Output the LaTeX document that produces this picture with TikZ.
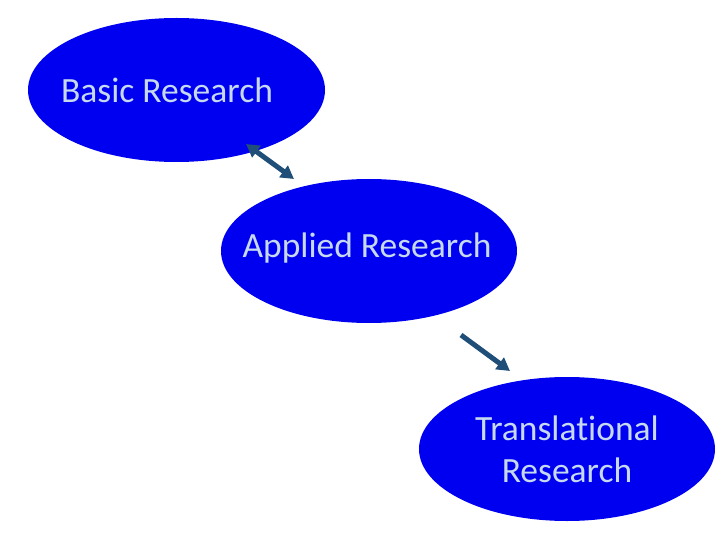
\documentclass[tikz,border=0pt]{standalone}
\usepackage{fontspec}
\setmainfont[Ligatures={NoCommon,NoRequired,NoContextual}]{Carlito}
\usetikzlibrary{arrows.meta}
\definecolor{ellblue}{HTML}{0000F0}
\definecolor{txtblue}{HTML}{C6D9F1}
\definecolor{arrblue}{HTML}{1F4E79}
\begin{document}
\begin{tikzpicture}[x=1pt,y=-1pt,
  ell/.style={draw=none,fill=ellblue},
  lbl/.style={text=txtblue,font=\fontsize{35.5}{42}\selectfont,align=center,inner sep=0pt},
  tip/.tip={Triangle[length=13pt,width=14pt]},
  conn/.style={draw=arrblue,line width=5pt,-tip},
  conn2/.style={draw=arrblue,line width=5pt,tip-tip}]
\useasboundingbox (0,0) rectangle (720,540);
\fill[ell] (176.5,90) ellipse [x radius=148.5,y radius=72];
\fill[ell] (369,251) ellipse [x radius=148,y radius=72];
\fill[ell] (567,449) ellipse [x radius=148,y radius=72];
\node[lbl] (basic) at (167,90) {Basic Research};
\node[lbl] (applied) at (367,248) {Applied Research};
\node[lbl] (trans) at (567,449) {Translational\\Research};
\coordinate (a1) at (246,144);
\coordinate (a2) at (294,179);
\coordinate (b1) at (461,335);
\coordinate (b2) at (510,371);
\draw[conn2] (a1) -- (a2);
\draw[conn] (b1) -- (b2);
\end{tikzpicture}
\end{document}
